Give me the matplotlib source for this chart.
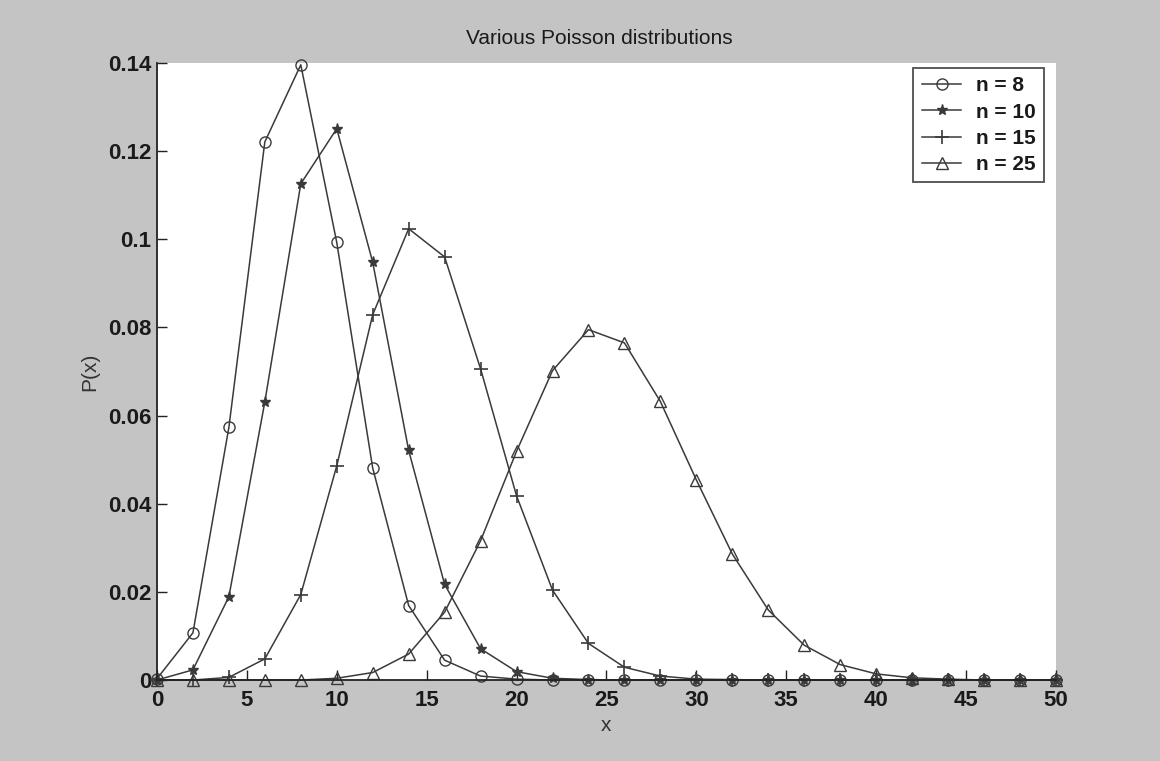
import matplotlib
matplotlib.use("Agg")
import matplotlib.pyplot as plt

x = [0, 2, 4, 6, 8, 10, 12, 14, 16, 18, 20, 22, 24, 26, 28, 30, 32, 34, 36, 38,
     40, 42, 44, 46, 48, 50]

p_n8 = [0.0003, 0.0107, 0.0573, 0.1221, 0.1396, 0.0993, 0.0481, 0.0169, 0.0045,
        0.0009, 0.0002, 0.0000, 0.0000, 0.0000, 0.0000, 0.0000, 0.0000, 0.0000,
        0.0000, 0.0000, 0.0000, 0.0000, 0.0000, 0.0000, 0.0000, 0.0000]
p_n10 = [0.0000, 0.0023, 0.0189, 0.0631, 0.1126, 0.1251, 0.0948, 0.0521, 0.0217,
         0.0071, 0.0019, 0.0004, 0.0001, 0.0000, 0.0000, 0.0000, 0.0000, 0.0000,
         0.0000, 0.0000, 0.0000, 0.0000, 0.0000, 0.0000, 0.0000, 0.0000]
p_n15 = [0.0000, 0.0000, 0.0006, 0.0048, 0.0194, 0.0486, 0.0829, 0.1024, 0.0960,
         0.0706, 0.0418, 0.0204, 0.0083, 0.0029, 0.0009, 0.0002, 0.0001, 0.0000,
         0.0000, 0.0000, 0.0000, 0.0000, 0.0000, 0.0000, 0.0000, 0.0000]
p_n25 = [0.0000, 0.0000, 0.0000, 0.0000, 0.0000, 0.0004, 0.0017, 0.0059, 0.0154,
         0.0316, 0.0519, 0.0702, 0.0795, 0.0765, 0.0632, 0.0454, 0.0286, 0.0159,
         0.0079, 0.0035, 0.0014, 0.0005, 0.0002, 0.0000, 0.0000, 0.0000]

series = [
    ("n = 8", p_n8, "o"),
    ("n = 10", p_n10, "*"),
    ("n = 15", p_n15, "+"),
    ("n = 25", p_n25, "^"),
]

xticks = [0, 5, 10, 15, 20, 25, 30, 35, 40, 45, 50]
yticks = [0, 0.02, 0.04, 0.06, 0.08, 0.1, 0.12, 0.14]
ytick_labels = ["0", "0.02", "0.04", "0.06", "0.08", "0.1", "0.12", "0.14"]

plt.rcParams["font.family"] = ["Liberation Sans", "DejaVu Sans"]

fig = plt.figure(figsize=(11.6, 7.61), dpi=100, facecolor="#c4c4c4")
ax = fig.add_axes([0.1353, 0.1064, 0.775, 0.8108])
ax.set_facecolor("white")

line_color = "#3a3a3a"
for label, vals, mk in series:
    kw = dict(color=line_color, lw=1.1, marker=mk, label=label, clip_on=False)
    if mk in ("o", "^"):
        kw.update(markerfacecolor="none", markeredgecolor=line_color,
                  markersize=8, markeredgewidth=1.0)
    elif mk == "*":
        kw.update(markerfacecolor=line_color, markeredgecolor=line_color,
                  markersize=8, markeredgewidth=1.0)
    else:
        kw.update(markeredgecolor=line_color, markersize=10, markeredgewidth=1.2)
    ax.plot(x, vals, **kw)

ax.set_xlim(0, 50)
ax.set_ylim(0, 0.14)
ax.set_xticks(xticks)
ax.set_yticks(yticks)
ax.set_yticklabels(ytick_labels)
ax.tick_params(direction="in", length=7, width=1, colors="#222222",
               labelsize=16)
ax.tick_params(axis="x", pad=7)
ax.tick_params(axis="y", pad=4)
for lbl in ax.get_xticklabels() + ax.get_yticklabels():
    lbl.set_fontweight("bold")
    lbl.set_color("#1a1a1a")

for side in ("top", "right"):
    ax.spines[side].set_visible(False)
for side in ("left", "bottom"):
    ax.spines[side].set_linewidth(1.3)
    ax.spines[side].set_color("#222222")

fig.text(0.517, 1 - 38 / 761, "Various Poisson distributions", fontsize=15,
         color="#1a1a1a", ha="center", va="center")
ax.set_xlabel("x", fontsize=15, color="#333333", labelpad=4)
ax.set_ylabel("P(x)", fontsize=15, color="#333333", labelpad=6)

leg = ax.legend(loc="upper right", bbox_to_anchor=(0.9867, 0.992),
                borderaxespad=0, fontsize=15, frameon=True, fancybox=False,
                edgecolor="#222222", handlelength=1.9, borderpad=0.4,
                labelspacing=0.35, handletextpad=0.7)
leg.get_frame().set_linewidth(1.3)
for t in leg.get_texts():
    t.set_fontweight("bold")
    t.set_color("#1a1a1a")

fig.savefig("out.png", dpi=100, facecolor=fig.get_facecolor())
